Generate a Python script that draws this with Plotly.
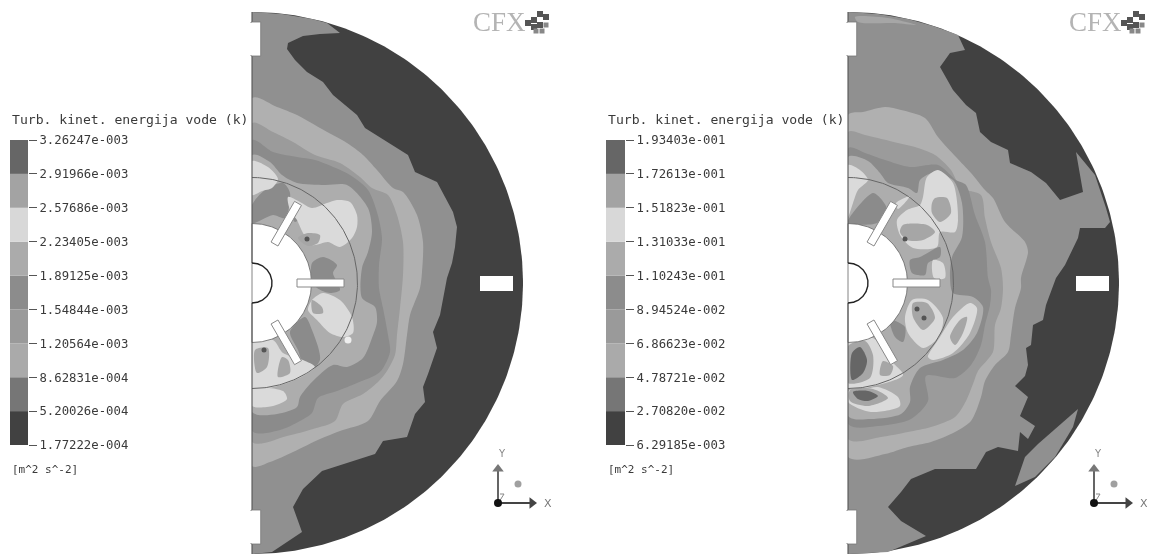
import numpy as np
import plotly.graph_objects as go

TITLE = "Turb. kinet. energija vode (k)"
UNITS = "[m^2 s^-2]"
LEFT_TICKS = ["1.77222e-004", "5.20026e-004", "8.62831e-004", "1.20564e-003", "1.54844e-003",
              "1.89125e-003", "2.23405e-003", "2.57686e-003", "2.91966e-003", "3.26247e-003"]
RIGHT_TICKS = ["6.29185e-003", "2.70820e-002", "4.78721e-002", "6.86623e-002", "8.94524e-002",
               "1.10243e-001", "1.31033e-001", "1.51823e-001", "1.72613e-001", "1.93403e-001"]
LEGEND_BANDS = [0, 1, 2, 3, 4, 5, 6, 7, 8]

R_OUTER = 271
R_ROTOR = 105.5
R_HUB = 59.5
R_SHAFT = 20
BLADE_ANGLES = [0, 60, -60]
BLADE_SPAN = (45, 92)
BLADE_HALF = 4

# Contour boundaries (distance from wall, height above shaft axis)
L_F1 = [(0,271),(30,269),(60,264),(75,260),(88,250),(68,249),(51,247),(36,240),(35,234),(43,223),(55,211),(71,201),(81,188),(105,168),(113,155),(135,141),(156,128),(163,111),(185,101),(201,71),(205,56),(203,36),(200,20),(195,5),(188,-32),(181,-49),(185,-65),(176,-91),(171,-104),(173,-119),(163,-131),(155,-154),(131,-158),(123,-171),(98,-179),(70,-188),(51,-206),(41,-224),(50,-249),(20,-269),(0,-271)]
L_F2 = [(0,185),(25,176),(45,168),(68,155),(95,140),(111,128),(125,113),(141,95),(151,91),(165,68),(171,41),(170,11),(168,-5),(158,-32),(155,-52),(151,-81),(145,-98),(128,-118),(116,-138),(88,-148),(68,-156),(41,-169),(18,-179),(0,-183)]
L_F3 = [(0,160),(21,151),(41,141),(63,128),(88,120),(108,106),(120,95),(136,88),(145,68),(151,41),(151,8),(148,-25),(145,-52),(143,-72),(135,-88),(126,-99),(111,-111),(91,-121),(83,-138),(61,-146),(35,-153),(0,-159)]
L_F4 = [(0,143),(21,131),(45,126),(63,123),(98,108),(116,93),(125,71),(130,45),(127,18),(127,-5),(131,-25),(136,-52),(138,-69),(128,-89),(105,-100),(85,-108),(66,-115),(60,-130),(48,-138),(28,-147),(0,-148)]
L_F5 = [(0,128),(18,121),(30,108),(45,100),(73,98),(95,98),(116,75),(120,51),(116,31),(110,15),(110,-15),(123,-24),(125,-39),(120,-55),(111,-75),(95,-84),(81,-82),(60,-99),(48,-114),(45,-124),(25,-131),(0,-129)]
L_GREY = [
    [(46,45),(56,50),(68,48),(66,40),(56,37)],
    [(60,-17),(70,-24),(71,-30),(61,-30)],
    [(3,-67),(16,-65),(15,-84),(5,-90)],
    [(30,-74),(36,-77),(38,-90),(26,-94)],
]
L_PALE = [
    [(36,86),(48,81),(60,75),(75,80),(85,83),(98,81),(105,68),(105,56),(100,45),(88,36),(76,41),(60,38),(51,50),(45,63),(38,73)],
    [(60,-17),(71,-10),(88,-17),(100,-34),(101,-50),(91,-54),(78,-50),(65,-37),(56,-27)],
    [(0,-60),(21,-57),(31,-70),(51,-77),(63,-84),(38,-99),(0,-105)],
    [(0,-106),(31,-108),(35,-116),(21,-123),(0,-123)],
    [(0,122),(16,116),(26,104),(20,95),(10,92),(0,88)],
]
L_DARKBAND = [
    [(60,20),(71,26),(85,18),(81,10),(88,-7),(78,-10),(65,-5),(60,3)],
    [(53,-34),(60,-47),(68,-77),(55,-90),(46,-67),(38,-49)],
    [(0,78),(13,93),(31,100),(38,90),(33,65),(21,68),(0,60)],
    [(41,80),(50,68),(43,61),(38,73)],
]
L_SPOTS_X = [55, 12]
L_SPOTS_Y = [44, -67]
L_WHITE_X = [96]
L_WHITE_Y = [-57]

R_F1 = [(0,271),(30,269),(60,264),(85,257),(105,250),(110,248),(117,233),(102,230),(92,216),(105,193),(118,178),(128,170),(132,151),(143,141),(160,133),(162,120),(183,111),(198,100),(212,83),(235,91),(228,131),(247,108),(258,75),(262,61),(257,55),(232,55),(230,45),(217,18),(208,5),(198,-22),(195,-37),(185,-42),(183,-62),(178,-65),(180,-82),(177,-93),(167,-103),(180,-114),(172,-133),(187,-143),(180,-156),(172,-149),(170,-168),(150,-164),(138,-169),(128,-186),(87,-186),(63,-196),(53,-209),(40,-224),(53,-238),(78,-253),(40,-269),(0,-271)]
R_F1B = [(230,-126),(225,-144),(207,-174),(187,-194),(167,-203),(177,-174),(190,-161),(217,-138)]
R_F2 = [(0,168),(15,171),(37,176),(53,173),(77,165),(90,146),(108,126),(123,110),(137,93),(145,85),(157,61),(177,41),(180,31),(173,5),(173,-5),(167,-25),(163,-52),(160,-69),(147,-82),(137,-98),(133,-114),(123,-138),(107,-149),(83,-159),(60,-164),(37,-171),(0,-174)]
R_F3 = [(0,151),(17,148),(50,140),(67,136),(87,128),(103,113),(113,95),(133,88),(137,65),(143,41),(153,15),(155,-5),(153,-25),(147,-42),(145,-69),(130,-88),(125,-101),(118,-118),(107,-134),(83,-144),(60,-149),(33,-154),(0,-156)]
R_F4 = [(0,135),(17,130),(37,123),(62,116),(90,118),(108,103),(118,98),(127,68),(137,41),(140,5),(143,-7),(142,-22),(137,-42),(133,-62),(123,-82),(107,-95),(78,-93),(80,-118),(63,-136),(30,-143),(0,-141)]
R_F5 = [(0,126),(20,122),(32,110),(40,100),(60,95),(69,90),(72,103),(85,110),(105,103),(114,80),(114,46),(104,26),(102,6),(105,-10),(125,-14),(135,-24),(129,-50),(115,-67),(95,-77),(72,-85),(62,-104),(62,-119),(53,-131),(23,-136),(0,-133)]
R_PALE = [
    [(75,86),(79,106),(90,113),(105,100),(110,63),(107,51),(92,51),(89,36),(65,35),(52,48),(49,63),(59,73),(72,78)],
    [(85,23),(95,20),(97,5),(86,5)],
    [(57,-34),(64,-17),(80,-17),(95,-35),(90,-55),(75,-65),(60,-50)],
    [(80,-74),(92,-54),(105,-34),(122,-20),(129,-25),(122,-50),(105,-70),(85,-77)],
    [(0,-60),(25,-55),(40,-75),(55,-92),(30,-102),(0,-105)],
    [(0,-108),(17,-106),(30,-104),(50,-114),(52,-123),(23,-129),(0,-119)],
    [(0,118),(12,113),(20,103),(10,93),(5,80),(0,66)],
    [(48,80),(62,87),(50,74)],
]
R_GREY = [
    [(84,80),(87,85),(99,85),(103,70),(92,61),(84,70)],
    [(52,51),(55,58),(79,58),(87,51),(75,43),(59,43)],
    [(65,-20),(79,-20),(87,-35),(75,-47),(65,-34)],
    [(102,-54),(112,-37),(119,-34),(115,-50),(107,-62)],
    [(0,-63),(17,-58),(25,-72),(22,-95),(0,-100)],
    [(35,-78),(45,-83),(42,-92),(32,-92)],
    [(2,-107),(25,-106),(40,-115),(20,-123),(2,-118)],
    [(7,266),(40,265),(68,258),(47,260),(10,261)],
]
R_DARKBAND = [
    [(62,23),(72,26),(92,36),(92,26),(80,20),(77,8),(64,10)],
    [(42,-37),(57,-44),(55,-59),(47,-54)],
    [(2,66),(25,90),(34,83),(39,73),(29,60),(0,60)],
]
R_CORE = [
    [(4,-70),(12,-64),(19,-77),(15,-90),(4,-97)],
    [(5,-109),(20,-108),(30,-113),(20,-118),(10,-116)],
]
R_SPOTS_X = [57, 69, 76]
R_SPOTS_Y = [44, -26, -35]
R_WHITE_X = []
R_WHITE_Y = []

PROBE_X = (228, 261)
PROBE_Y = (-8, 7)
NOTCHES_Y = [(227, 261), (-261, -227)]
NOTCH_W = 8.7

# Styling
LEGEND_COLORS = ["#414141", "#767676", "#aaaaaa", "#9a9a9a", "#8c8c8c", "#ababab", "#d8d8d8", "#a3a3a3", "#666666"]
C_DARK, C_F1, C_F2, C_F3, C_F4, C_F5, C_PALE, C_GREY, C_CORE = (
    "#414141", "#909090", "#b0b0b0", "#9b9b9b", "#8b8b8b", "#adadad", "#dadada", "#a6a6a6", "#666666")
TEXT = "#3a3a3a"
MONO = "DejaVu Sans Mono"

fig = go.Figure()


def poly(pts, color, xa, ya, line=None, smooth=False):
    xs = [p[0] for p in pts]
    ys = [p[1] for p in pts]
    ln = dict(width=line[1], color=line[0]) if line else dict(width=0, color=color)
    if smooth:
        ln.update(shape="spline", smoothing=0.8)
    fig.add_trace(go.Scatter(
        x=xs + xs[:1], y=ys + ys[:1], mode="lines", fill="toself", fillcolor=color, line=ln,
        xaxis=xa, yaxis=ya, hoverinfo="skip", showlegend=False))


def arc(radius, a0, a1, n=180):
    t = np.radians(np.linspace(a0, a1, n))
    return radius * np.cos(t), radius * np.sin(t)


def line(xs, ys, xa, ya, color="#555555", width=1.0):
    fig.add_trace(go.Scatter(x=list(xs), y=list(ys), mode="lines", line=dict(color=color, width=width),
                             xaxis=xa, yaxis=ya, hoverinfo="skip", showlegend=False))


def markers(xs, ys, xa, ya, color, size, symbol="circle"):
    if len(xs):
        fig.add_trace(go.Scatter(x=list(xs), y=list(ys), mode="markers",
                                 marker=dict(color=color, size=size, symbol=symbol, line=dict(width=0)),
                                 xaxis=xa, yaxis=ya, hoverinfo="skip", showlegend=False))


def panel(xa, ya, layers, spots_x, spots_y, white_x, white_y):
    ax, ay = arc(R_OUTER, -90, 90)
    poly(list(zip(ax, ay)), C_DARK, xa, ya)
    for pts, col, smooth in layers:
        poly(pts, col, xa, ya, smooth=smooth)
    markers(spots_x, spots_y, xa, ya, "#555555", 5)
    markers(white_x, white_y, xa, ya, "#eeeeee", 7)
    # mask spline overshoot left of the wall
    poly([(-2, -R_OUTER), (0, -R_OUTER), (0, R_OUTER), (-2, R_OUTER)], "#ffffff", xa, ya)
    # hub
    hx, hy = arc(R_HUB, -90, 90)
    poly(list(zip(hx, hy)), "#ffffff", xa, ya, ("#666666", 0.8))
    rx, ry = arc(R_ROTOR, -90, 90)
    line(rx, ry, xa, ya, "#666666", 1.0)
    # wall
    line([0, 0], [R_OUTER, R_SHAFT], xa, ya, "#555555", 1.1)
    line([0, 0], [-R_SHAFT, -R_OUTER], xa, ya, "#555555", 1.1)
    # shaft recess
    sx, sy = arc(R_SHAFT, -90, 90)
    line(sx, sy, xa, ya, "#222222", 1.4)
    # blades
    for a in BLADE_ANGLES:
        c, s = np.cos(np.radians(a)), np.sin(np.radians(a))
        pts = [(r * c - w * s, r * s + w * c) for r, w in
               [(BLADE_SPAN[0], BLADE_HALF), (BLADE_SPAN[1], BLADE_HALF),
                (BLADE_SPAN[1], -BLADE_HALF), (BLADE_SPAN[0], -BLADE_HALF)]]
        poly(pts, "#ffffff", xa, ya, ("#888888", 1.0))
    # probe
    poly([(PROBE_X[0], PROBE_Y[0]), (PROBE_X[1], PROBE_Y[0]), (PROBE_X[1], PROBE_Y[1]), (PROBE_X[0], PROBE_Y[1])],
         "#ffffff", xa, ya)
    # notches
    for y0, y1 in NOTCHES_Y:
        poly([(-1, y0), (NOTCH_W, y0), (NOTCH_W, y1), (-1, y1)], "#ffffff", xa, ya, ("#777777", 0.8))
        poly([(-2, y0 + 1), (0, y0 + 1), (0, y1 - 1), (-2, y1 - 1)], "#ffffff", xa, ya)
    # triad
    ox, oy = 246, -220
    line([ox, ox], [oy, oy + 33], xa, ya, "#555555", 1.8)
    line([ox, ox + 33], [oy, oy], xa, ya, "#444444", 1.8)
    line([ox + 1, ox + 6, ox + 2], [oy + 1, oy + 9, oy + 9], xa, ya, "#888888", 1.0)
    markers([ox], [oy + 34], xa, ya, "#777777", 10, "triangle-up")
    markers([ox + 34], [oy], xa, ya, "#444444", 10, "triangle-right")
    markers([ox], [oy], xa, ya, "#111111", 8)
    markers([ox + 20], [oy + 19], xa, ya, "#a0a0a0", 7)
    # logo blocks
    markers([282, 288, 282, 288, 294, 276], [263, 269, 256, 258, 266, 260], xa, ya, "#555555", 6, "square")
    markers([294, 284, 290], [258, 252, 252], xa, ya, "#888888", 5, "square")
    for txt, x, y, size, col, fam in [
        ("CFX", 247, 261, 27, "#b4b4b4", "Liberation Serif"),
        ("Y", 250, -170, 10, "#888888", "DejaVu Sans"),
        ("X", 296, -220, 11, "#777777", "DejaVu Sans"),
    ]:
        fig.add_annotation(x=x, y=y, xref=xa, yref=ya, text=txt, showarrow=False,
                           font=dict(family=fam, size=size, color=col))


left_layers = [(L_F1, C_F1, False), (L_F2, C_F2, True), (L_F3, C_F3, True), (L_F4, C_F4, True), (L_F5, C_F5, True)]
left_layers += [(p, C_F4, True) for p in L_DARKBAND]
left_layers += [(p, C_PALE, True) for p in L_PALE] + [(p, C_GREY, True) for p in L_GREY]
right_layers = [(R_F1, C_F1, False), (R_F1B, C_F1, False), (R_F2, C_F2, True), (R_F3, C_F3, True), (R_F4, C_F4, True), (R_F5, C_F5, True)]
right_layers += [(p, C_F4, True) for p in R_DARKBAND]
right_layers += [(p, C_PALE, True) for p in R_PALE] + [(p, C_GREY, True) for p in R_GREY] + [(p, C_CORE, True) for p in R_CORE]

panel("x", "y", left_layers, L_SPOTS_X, L_SPOTS_Y, L_WHITE_X, L_WHITE_Y)
panel("x2", "y2", right_layers, R_SPOTS_X, R_SPOTS_Y, R_WHITE_X, R_WHITE_Y)

# Legend colour scales
for xa, ya in (("x3", "y3"), ("x4", "y4")):
    fig.add_trace(go.Bar(x=[0.5] * len(LEGEND_BANDS), y=[1] * len(LEGEND_BANDS), base=LEGEND_BANDS, width=1,
                         marker=dict(color=LEGEND_COLORS, line=dict(width=0)),
                         xaxis=xa, yaxis=ya, hoverinfo="skip", showlegend=False))

W, H = 1150, 554
hidden = dict(visible=False, fixedrange=True)
PY = dict(domain=[0, 1], range=[-271, 283], **hidden)


def scale_axis(ticks, anchor):
    return dict(domain=[(554 - 445) / H, (554 - 140) / H], range=[0, 9], side="right", anchor=anchor,
                tickmode="array", tickvals=list(range(10)), ticktext=ticks, ticks="outside", ticklen=8,
                tickcolor="#555555", tickwidth=1, showgrid=False, zeroline=False, showline=False, automargin=False,
                tickfont=dict(family=MONO, size=12.3, color=TEXT), fixedrange=True)


fig.update_layout(
    width=W, height=H, margin=dict(l=0, r=0, t=0, b=0, pad=0, autoexpand=False), autosize=False,
    paper_bgcolor="#ffffff", plot_bgcolor="rgba(0,0,0,0)", barmode="overlay",
    xaxis=dict(domain=[250 / W, 552 / W], range=[-2, 300], anchor="y", **hidden),
    yaxis=dict(anchor="x", **PY),
    xaxis2=dict(domain=[846 / W, 1148 / W], range=[-2, 300], anchor="y2", **hidden),
    yaxis2=dict(anchor="x2", **PY),
    xaxis3=dict(domain=[10 / W, 28 / W], range=[0, 1], anchor="y3", **hidden),
    yaxis3=scale_axis(LEFT_TICKS, "x3"),
    xaxis4=dict(domain=[606 / W, 625 / W], range=[0, 1], anchor="y4", **hidden),
    yaxis4=scale_axis(RIGHT_TICKS, "x4"),
)

for x0 in (10, 606):
    fig.add_annotation(x=x0 / W, y=1 - 120 / H, xref="paper", yref="paper", xanchor="left", yanchor="middle",
                       text=TITLE, showarrow=False, font=dict(family=MONO, size=13.1, color=TEXT))
    fig.add_annotation(x=x0 / W, y=1 - 469 / H, xref="paper", yref="paper", xanchor="left", yanchor="middle",
                       text=UNITS, showarrow=False, font=dict(family=MONO, size=11, color=TEXT))

fig.write_html("out.html", config=dict(displayModeBar=False),
               post_script="document.body.style.margin='0';document.documentElement.style.overflow='hidden';"
                           "document.body.style.filter='blur(0.5px)';")
